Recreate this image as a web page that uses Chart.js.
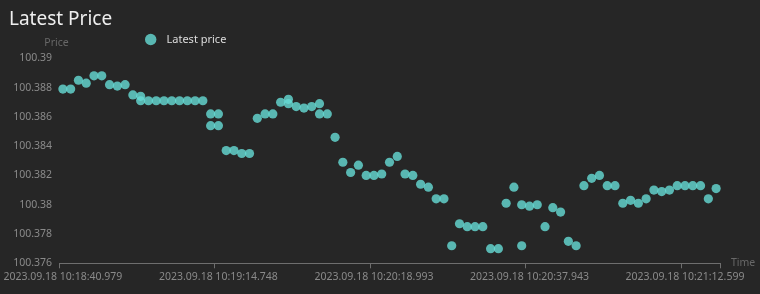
<!DOCTYPE html>
<html>
<head>
<meta charset="utf-8">
<title>Latest Price</title>
<script src="https://cdn.jsdelivr.net/npm/chart.js@4.4.0/dist/chart.umd.min.js"></script>
<style>
    html, body { margin: 0; padding: 0; background: #262626; }
    #wrap { position: relative; width: 760px; height: 294px; }
</style>
</head>
<body>
<div id="wrap"><canvas id="priceChart"></canvas></div>
<script>
// Latest price, one value per tick on the time axis
const prices = [
    100.3879, 100.3879, 100.3885, 100.3883, 100.3888, 100.3888, 100.3882, 100.3881, 100.3882, 100.3875,
    100.3874, 100.3871, 100.3871, 100.3871, 100.3871, 100.3871, 100.3871, 100.3871, 100.3871, 100.3862,
    100.3862, 100.3837, 100.3837, 100.3835, 100.3835, 100.3859, 100.3862, 100.3862, 100.3870, 100.3872,
    100.3867, 100.3866, 100.3867, 100.3869, 100.3862, 100.3846, 100.3829, 100.3822, 100.3827, 100.3820,
    100.3820, 100.3821, 100.3829, 100.3833, 100.3821, 100.3820, 100.3814, 100.3812, 100.3804, 100.3804,
    100.3772, 100.3787, 100.3785, 100.3785, 100.3785, 100.3770, 100.3770, 100.3801, 100.3812, 100.3800,
    100.3799, 100.3800, 100.3785, 100.3798, 100.3795, 100.3775, 100.3772, 100.3813, 100.3818, 100.3820,
    100.3813, 100.3813, 100.3801, 100.3803, 100.3801, 100.3804, 100.3810, 100.3809, 100.3810, 100.3813,
    100.3813, 100.3813, 100.3813, 100.3804, 100.3811
];

// Second trade printed on the same tick: [tick index, price]
const extraTrades = [
    [10, 100.3871], [19, 100.3854], [20, 100.3854], [29, 100.3869], [33, 100.3862], [59, 100.3772]
];

// Time labels shown on the x axis, one every labelStep ticks
const timeLabels = [
    '2023.09.18 10:18:40.979',
    '2023.09.18 10:19:14.748',
    '2023.09.18 10:20:18.993',
    '2023.09.18 10:20:37.943',
    '2023.09.18 10:21:12.599'
];
const labelStep = 20;

const yMin = 100.376;
const yMax = 100.39;
const yStep = 0.002;

const FONT = '"Noto Sans", "Open Sans", sans-serif';
const axisColor = '#6e6e6e';
const labelColor = '#8a8a8a';
const pointColor = 'rgba(103, 220, 214, 0.8)';

/**
 * Title, legend and axis names, laid out like the original
 */
const decorPlugin = {
    id: 'decor',
    afterDraw(chart) {
        const ctx = chart.ctx;
        const area = chart.chartArea;
        ctx.save();
        ctx.textBaseline = 'alphabetic';

        // Title
        ctx.font = '19px ' + FONT;
        ctx.fillStyle = '#eeeeee';
        ctx.textAlign = 'left';
        ctx.fillText('Latest Price', 9, 25);

        // Legend
        ctx.fillStyle = pointColor;
        ctx.beginPath();
        ctx.arc(150.7, 39.5, 5.7, 0, Math.PI * 2);
        ctx.fill();
        ctx.font = '11px ' + FONT;
        ctx.fillStyle = '#dddddd';
        ctx.fillText(chart.data.datasets[0].label, 166.5, 43.3);

        // Axis names
        ctx.font = '10.5px ' + FONT;
        ctx.fillStyle = '#686868';
        ctx.textAlign = 'center';
        ctx.fillText('Price', 56.5, 46);
        ctx.textAlign = 'left';
        ctx.fillText('Time', area.right + 11, area.bottom + 3);
        ctx.restore();
    }
};

function buildPoints() {
    const points = prices.map((p, i) => ({ x: i, y: p }));
    extraTrades.forEach(([i, p]) => points.push({ x: i, y: p }));
    return points;
}

document.addEventListener('DOMContentLoaded', function() {
    const ctx = document.getElementById('priceChart').getContext('2d');

    new Chart(ctx, {
        type: 'scatter',
        data: {
            labels: prices.map((p, i) => i),
            datasets: [{
                label: 'Latest price',
                data: buildPoints(),
                backgroundColor: pointColor,
                borderWidth: 0,
                pointRadius: 4.6,
                pointHoverRadius: 5
            }]
        },
        options: {
            responsive: true,
            maintainAspectRatio: false,
            animation: false,
            layout: {
                padding: { top: 58.3, right: 40, bottom: 0, left: 0 }
            },
            plugins: {
                legend: { display: false },
                title: { display: false },
                tooltip: { enabled: false }
            },
            scales: {
                x: {
                    type: 'category',
                    offset: true,
                    afterFit: (scale) => { scale.height = 30.7; },
                    grid: {
                        display: true,
                        offset: true,
                        drawOnChartArea: false,
                        drawTicks: true,
                        tickLength: 5,
                        tickColor: (c) => (c.type !== 'tick' || c.index % labelStep === 0) ? axisColor : 'rgba(0,0,0,0)'
                    },
                    border: { display: true, color: axisColor, width: 1 },
                    ticks: {
                        autoSkip: false,
                        maxRotation: 0,
                        minRotation: 0,
                        padding: 2,
                        color: labelColor,
                        font: { family: FONT, size: 10.5 },
                        callback: (value, index) => index % labelStep === 0 ? timeLabels[index / labelStep] : ''
                    }
                },
                y: {
                    min: yMin,
                    max: yMax,
                    afterFit: (scale) => { scale.width = 59; },
                    grid: { display: false, drawTicks: false },
                    border: { display: false },
                    ticks: {
                        stepSize: yStep,
                        padding: 7,
                        color: labelColor,
                        font: { family: FONT, size: 10.5 },
                        callback: (value) => String(parseFloat(value.toFixed(3)))
                    }
                }
            }
        },
        plugins: [decorPlugin]
    });
});
</script>
</body>
</html>
